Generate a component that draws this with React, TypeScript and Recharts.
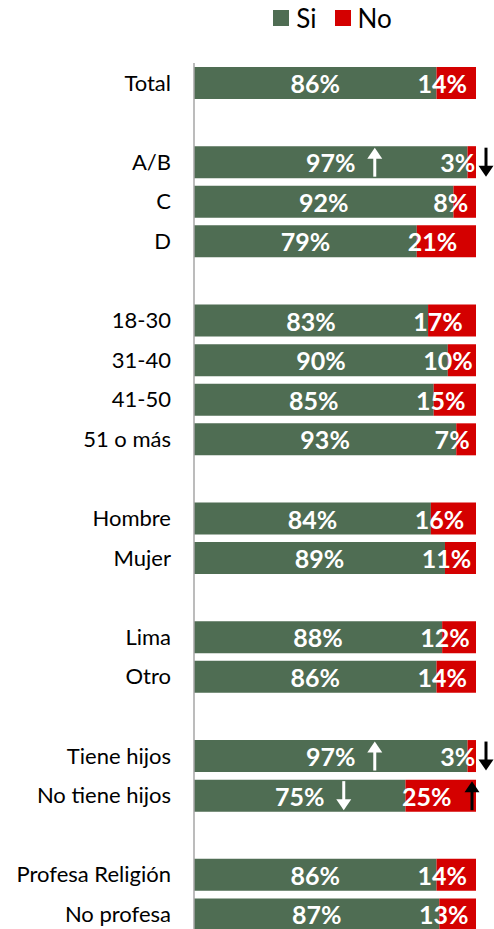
import React from "react";
import { BarChart, Bar, XAxis, YAxis, Legend, LabelList } from "recharts";

const categories = [
  "Total", "", "A/B", "C", "D", "", "18-30", "31-40", "41-50", "51 o más", "",
  "Hombre", "Mujer", "", "Lima", "Otro", "", "Tiene hijos", "No tiene hijos", "",
  "Profesa Religión", "No profesa",
];
const siValues = [86, null, 97, 92, 79, null, 83, 90, 85, 93, null, 84, 89, null, 88, 86, null, 97, 75, null, 86, 87];
const noValues = [14, null, 3, 8, 21, null, 17, 10, 15, 7, null, 16, 11, null, 12, 14, null, 3, 25, null, 14, 13];
const siTrend = ["", "", "up", "", "", "", "", "", "", "", "", "", "", "", "", "", "", "up", "down", "", "", ""];
const noTrend = ["", "", "down", "", "", "", "", "", "", "", "", "", "", "", "", "", "", "down", "up", "", "", ""];
const seriesNames = ["Si", "No"];

const GREEN = "#4F6D53";
const RED = "#D40000";
const COLORS = [GREEN, RED];
const FONT = "Lato, Carlito, Calibri, 'Open Sans', sans-serif";

const data = categories.map((c, i) => ({
  name: c,
  si: siValues[i],
  no: noValues[i],
  siTrend: siTrend[i],
  noTrend: noTrend[i],
}));

function Arrow({ x, cy, dir, color }: { x: number; cy: number; dir: string; color: string }) {
  const len = 29;
  const top = cy - len / 2;
  const bottom = cy + len / 2;
  const headH = 11;
  const headW = 15;
  if (dir === "up") {
    return (
      <g>
        <line x1={x} x2={x} y1={bottom} y2={top + headH - 1} stroke={color} strokeWidth={3} />
        <polygon points={`${x},${top} ${x - headW / 2},${top + headH} ${x + headW / 2},${top + headH}`} fill={color} />
      </g>
    );
  }
  return (
    <g>
      <line x1={x} x2={x} y1={top} y2={bottom - headH + 1} stroke={color} strokeWidth={3} />
      <polygon points={`${x},${bottom} ${x - headW / 2},${bottom - headH} ${x + headW / 2},${bottom - headH}`} fill={color} />
    </g>
  );
}

const parse = (value: any) => {
  const [v, t] = String(value).split("|");
  return { v, t };
};

const SiLabel = (props: any) => {
  const { x, y, width, height, value } = props;
  if (value == null || value === "") return null;
  const { v, t } = parse(value);
  const cx = x + width / 2;
  const cy = y + height / 2;
  return (
    <g>
      <text x={cx} y={cy} textAnchor="middle" dominantBaseline="central" fill="#fff"
        fontFamily={FONT} fontWeight="bold" fontSize={25}>
        {v}%
      </text>
      {t ? <Arrow x={cx + 44} cy={cy} dir={t} color="#fff" /> : null}
    </g>
  );
};

const NoLabel = (props: any) => {
  const { x, y, width, height, value } = props;
  if (value == null || value === "") return null;
  const { v, t } = parse(value);
  const cx = x + width / 2 - 14;
  const cy = y + height / 2;
  const end = x + width;
  return (
    <g>
      <text x={cx} y={cy} textAnchor="middle" dominantBaseline="central" fill="#fff"
        fontFamily={FONT} fontWeight="bold" fontSize={25}>
        {v}%
      </text>
      {t ? <Arrow x={t === "down" ? end + 10 : end - 4} cy={cy} dir={t} color="#000" /> : null}
    </g>
  );
};

const renderLegend = () => (
  <div style={{ display: "flex", justifyContent: "center", alignItems: "center", paddingLeft: 171, height: 36, fontFamily: FONT, fontSize: 26, color: "#000" }}>
    {seriesNames.map((n, i) => (
      <div key={n} style={{ display: "flex", alignItems: "center", marginLeft: i > 0 ? 18 : 0 }}>
        <span style={{ width: 16, height: 16, background: COLORS[i], display: "inline-block", marginRight: 7 }} />
        <span>{n}</span>
      </div>
    ))}
  </div>
);

export default function App() {
  return (
    <div style={{ position: "fixed", top: 0, left: 0, width: 494, height: 929, overflow: "hidden", background: "#fff" }}>
      <BarChart
        width={494}
        height={942}
        data={data}
        layout="vertical"
        margin={{ top: 27, right: 18, bottom: 8, left: 0 }}
        barSize={32}
      >
        <XAxis type="number" domain={[0, 100]} hide />
        <YAxis
          type="category"
          dataKey="name"
          width={194}
          axisLine={{ stroke: "#A6A6A6", strokeWidth: 1.5 }}
          tickLine={false}
          tickMargin={17}
          interval={0}
          tick={{ fill: "#000", fontSize: 22, fontFamily: FONT }}
        />
        <Legend verticalAlign="top" content={renderLegend} wrapperStyle={{ top: 0, left: 0, width: 494 }} />
        <Bar dataKey="si" name={seriesNames[0]} stackId="a" fill={GREEN} isAnimationActive={false}>
          <LabelList dataKey={(d: any) => (d.si == null ? "" : `${d.si}|${d.siTrend}`)} content={SiLabel} />
        </Bar>
        <Bar dataKey="no" name={seriesNames[1]} stackId="a" fill={RED} isAnimationActive={false}>
          <LabelList dataKey={(d: any) => (d.no == null ? "" : `${d.no}|${d.noTrend}`)} content={NoLabel} />
        </Bar>
      </BarChart>
    </div>
  );
}
